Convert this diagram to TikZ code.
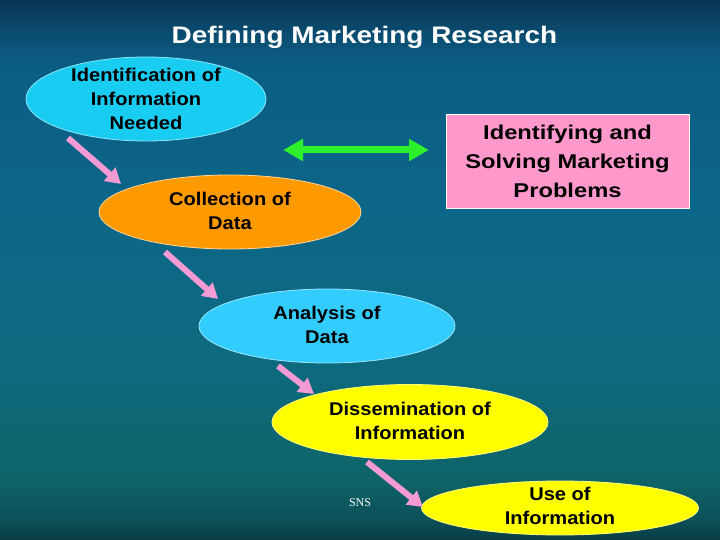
\documentclass[tikz,border=0pt]{standalone}
\usepackage{fontspec}
\setmainfont{Liberation Sans}
\newfontfamily\serifsns{Liberation Serif}
\newfontfamily\wideA[FakeStretch=1.09]{Liberation Sans}
\newfontfamily\wideB[FakeStretch=1.19]{Liberation Sans}
\newfontfamily\wideC[FakeStretch=1.17]{Liberation Sans}
\usetikzlibrary{shapes.geometric,arrows.meta}
\definecolor{bgA}{HTML}{083C44}
\definecolor{bgB}{HTML}{0C5058}
\definecolor{bgC}{HTML}{0E6468}
\definecolor{bgD}{HTML}{0D6A80}
\definecolor{bgE}{HTML}{0C6688}
\definecolor{bgF}{HTML}{0B5C84}
\definecolor{bgG}{HTML}{0A4466}
\definecolor{bgH}{HTML}{0A3452}
\definecolor{cyanA}{HTML}{19CCF2}
\definecolor{cyanB}{HTML}{33CCFF}
\definecolor{orangeA}{HTML}{FF9900}
\definecolor{yellowA}{HTML}{FFFF00}
\definecolor{pinkbox}{HTML}{FF99CC}
\definecolor{pinkarrow}{HTML}{F49BD6}
\definecolor{greenarrow}{HTML}{2BF02B}
\pgfdeclareverticalshading{bgshade}{100bp}{%
color(0bp)=(bgA); color(25bp)=(bgA); color(26.85bp)=(bgB); color(30.6bp)=(bgC);
color(42.6bp)=(bgD); color(56.5bp)=(bgE); color(69.4bp)=(bgF); color(73.1bp)=(bgG);
color(75bp)=(bgH); color(100bp)=(bgH)}
\tikzset{
  oval/.style={ellipse, inner sep=0pt, outer sep=0pt, line width=0.8bp},
  lbl/.style={font=\wideA\bfseries\fontsize{18.5}{24}\selectfont, align=center, text=black, inner sep=0pt},
  parrow/.style={draw=pinkarrow, line width=6bp, -{Triangle[width=17bp,length=15bp]}},
  garrow/.style={draw=greenarrow, line width=7bp, {Triangle[width=21bp,length=20bp]}-{Triangle[width=21bp,length=20bp]}}
}
\begin{document}
\begin{tikzpicture}[x=1bp,y=-1bp]
\useasboundingbox (0,0) rectangle (720,540);
\shade[shading=bgshade] (0,0) rectangle (720,540);

\node[text=white, font=\wideC\bfseries\fontsize{24}{28}\selectfont, inner sep=0pt] (title) at (364.5,37) {Defining Marketing Research};

\node[oval, fill=cyanA, draw=cyanA!50!white, minimum width=240bp, minimum height=84bp] (id) at (146,99) {};
\node[lbl] (idt) at (146,99) {Identification of\\Information\\Needed};

\node[oval, fill=orangeA, draw=orangeA!40!white, minimum width=262bp, minimum height=74bp] (col) at (230,212) {};
\node[lbl] (colt) at (230,211) {Collection of\\Data};

\node[oval, fill=cyanB, draw=cyanB!50!white, minimum width=256bp, minimum height=74bp] (ana) at (327,326) {};
\node[lbl] (anat) at (327,325) {Analysis of\\Data};

\node[oval, fill=yellowA, draw=yellowA!50!white, minimum width=276bp, minimum height=75bp] (dis) at (410,422) {};
\node[lbl] (dist) at (410,421) {Dissemination of\\Information};

\node[oval, fill=yellowA, draw=yellowA!50!white, minimum width=277bp, minimum height=54bp] (use) at (560,508) {};
\node[lbl] (uset) at (560,506) {Use of\\Information};

\node[rectangle, fill=pinkbox, draw=white, line width=0.8bp, minimum width=243bp, minimum height=94bp, inner sep=2bp,
      font=\wideB\bfseries\fontsize{20}{29}\selectfont, align=center, text=black] (prob) at (567.5,161) {Identifying and\\Solving Marketing\\Problems};

\coordinate (gl) at (283,150);
\coordinate (gr) at (429,150);
\draw[garrow] (gl) -- (gr);

\draw[parrow] ([shift={(-78,39)}]id.center) -- ([shift={(-109,-28)}]col.center);
\draw[parrow] ([shift={(-65,40)}]col.center) -- ([shift={(-109,-27)}]ana.center);
\draw[parrow] ([shift={(-49,40)}]ana.center) -- ([shift={(-96,-28)}]dis.center);
\draw[parrow] ([shift={(-43,40)}]dis.center) -- ([shift={(-137,-1)}]use.center);

\node[text=white, font=\serifsns\fontsize{12}{14}\selectfont, inner sep=0pt] (sns) at (360,503) {SNS};
\end{tikzpicture}
\end{document}
